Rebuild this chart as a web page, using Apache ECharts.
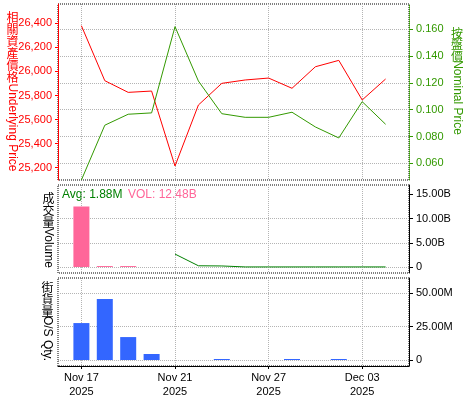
<!DOCTYPE html>
<html><head><meta charset="utf-8">
<script src="https://cdn.jsdelivr.net/npm/echarts@6/dist/echarts.min.js"></script>
<style>html,body{margin:0;padding:0;background:#fff}#c{width:475px;height:400px}</style>
</head><body><div id="c"></div>
<script>
const categories = ['Nov 14','Nov 17','Nov 18','Nov 19','Nov 20','Nov 21','Nov 24','Nov 25','Nov 26','Nov 27','Nov 28','Dec 01','Dec 02','Dec 03','Dec 04','Dec 05'];
const yearLabel = '2025';
const underlying = [null,26380,25923,25826,25837,25214,25721,25901,25929,25945,25860,26039,26092,25763,25937,null];
const nominal = [null,0.0475,0.0884,0.0966,0.0976,0.1620,0.1214,0.0970,0.0943,0.0943,0.0981,0.0871,0.0789,0.1060,0.0891,null];
const volume = [null,12.48e9,0.2e9,0.2e9,null,null,null,null,null,null,null,null,null,null,null,null];
const volumeAvg = [null,null,null,null,null,2.67e9,0.26e9,0.22e9,0.02e9,0.02e9,0.02e9,0.02e9,0.02e9,0.02e9,0.02e9,null];
const osQty = [null,27.7e6,45.7e6,17.2e6,4.5e6,null,null,0.75e6,null,null,0.75e6,null,0.75e6,null,null,null];
const priceTicks = [25200,25400,25600,25800,26000,26200,26400];
const nominalTicks = [0.06,0.08,0.10,0.12,0.14,0.16];
const volTicks = [0,5e9,10e9,15e9];
const volGridTicks = [0,5e9,10e9];
const osTicks = [0,25e6,50e6];
const avgText = 'Avg: 1.88M';
const volText = 'VOL: 12.48B';

const RED = '#ff0000', GREEN = '#339900', DKGREEN = '#008000', PINK = '#ff6699', BLUE = '#3366ff';
const FONT = 'Liberation Sans';
const CJK = 'Noto Sans CJK TC';
const showIdx = (i) => i >= 1 && (i - 1) % 4 === 0;
const gridSplit = {show: true, interval: showIdx, lineStyle: {color: '#b4b4b4', type: 'dotted', width: 1}};
const hSplit = {show: true, lineStyle: {color: '#b4b4b4', type: 'dotted', width: 1}};
const lbl = (c) => ({color: c, fontFamily: FONT, fontSize: 11});

function xAxis(gi, bottom) {
  return {
    type: 'category', gridIndex: gi, data: categories, boundaryGap: false,
    axisLine: {show: bottom, onZero: false, lineStyle: {color: '#000', width: 1}},
    axisTick: {show: bottom, interval: showIdx, length: 3, lineStyle: {color: '#000'}},
    axisLabel: Object.assign({show: bottom, interval: showIdx, margin: 5, lineHeight: 14,
      formatter: (v) => v + '\n' + yearLabel}, lbl('#000')),
    splitLine: gridSplit
  };
}

// vertical axis name: CJK characters upright and stacked, latin part rotated clockwise
function axisName(cjk, latin, x, top, step, latinCenter, color) {
  const els = [];
  Array.from(cjk).forEach((ch, i) => {
    els.push({type: 'text', x: x, y: top + i * step,
      style: {text: ch, fill: color, fontFamily: CJK, fontSize: 12, align: 'center', verticalAlign: 'top'}});
  });
  els.push({type: 'text', x: x, y: latinCenter, rotation: -Math.PI / 2,
    style: {text: latin, fill: color, fontFamily: FONT, fontSize: 12, align: 'center', verticalAlign: 'middle'}});
  return els;
}

const option = {
  animation: false,
  backgroundColor: '#fff',
  grid: [
    {left: 58, top: 4, width: 351, height: 176, show: true, borderColor: '#000', borderWidth: 1, borderType: 'dotted', backgroundColor: 'transparent'},
    {left: 58, top: 185, width: 351, height: 88, show: true, borderColor: '#000', borderWidth: 1, borderType: 'dotted', backgroundColor: 'transparent'},
    {left: 58, top: 278, width: 351, height: 88, show: true, borderColor: '#000', borderWidth: 1, borderType: 'dotted', backgroundColor: 'transparent'}
  ],
  xAxis: [xAxis(0, false), xAxis(1, false), xAxis(2, true)],
  yAxis: [
    {type: 'value', gridIndex: 0, position: 'left', min: 25097.8, max: 26560.4,
      axisLine: {show: true, lineStyle: {color: RED, width: 1}},
      axisTick: {show: true, length: 3, customValues: priceTicks, lineStyle: {color: RED}},
      axisLabel: Object.assign({margin: 6, customValues: priceTicks}, lbl(RED)),
      splitLine: {show: false}},
    {type: 'value', gridIndex: 0, position: 'right', min: 0.0475, max: 0.1789,
      axisLine: {show: true, lineStyle: {color: GREEN, width: 1, type: 'dotted'}},
      axisTick: {show: true, length: 4, customValues: nominalTicks, lineStyle: {color: GREEN}},
      axisLabel: Object.assign({margin: 7, customValues: nominalTicks, formatter: (v) => v.toFixed(3)}, lbl(GREEN)),
      splitLine: hSplit},
    {type: 'value', gridIndex: 1, position: 'right', min: -1.23e9, max: 16.9e9,
      axisLine: {show: true, lineStyle: {color: '#000', width: 1}},
      axisTick: {show: true, length: 4, customValues: volTicks, lineStyle: {color: '#000'}},
      axisLabel: Object.assign({margin: 7, customValues: volTicks,
        formatter: (v) => v === 0 ? '0' : (v / 1e9).toFixed(2) + 'B'}, lbl('#000')),
      splitLine: {show: false}},
    {type: 'value', gridIndex: 1, position: 'left', min: -1.23e9, max: 16.9e9,
      axisLine: {show: false}, axisTick: {show: false, customValues: volGridTicks},
      axisLabel: {show: false, customValues: volGridTicks}, splitLine: hSplit},
    {type: 'value', gridIndex: 2, position: 'right', min: -4.5e6, max: 61.5e6,
      axisLine: {show: true, lineStyle: {color: '#000', width: 1}},
      axisTick: {show: true, length: 4, customValues: osTicks, lineStyle: {color: '#000'}},
      axisLabel: Object.assign({margin: 7, customValues: osTicks,
        formatter: (v) => v === 0 ? '0' : (v / 1e6).toFixed(2) + 'M'}, lbl('#000')),
      splitLine: hSplit}
  ],
  series: [
    {type: 'line', xAxisIndex: 0, yAxisIndex: 0, data: underlying, showSymbol: false, symbol: 'none',
      lineStyle: {color: RED, width: 1}, itemStyle: {color: RED}},
    {type: 'line', xAxisIndex: 0, yAxisIndex: 1, data: nominal, showSymbol: false, symbol: 'none',
      lineStyle: {color: GREEN, width: 1}, itemStyle: {color: GREEN}},
    {type: 'bar', xAxisIndex: 1, yAxisIndex: 2, data: volume, barWidth: 16, itemStyle: {color: PINK}},
    {type: 'line', xAxisIndex: 1, yAxisIndex: 2, data: volumeAvg, showSymbol: false, symbol: 'none',
      lineStyle: {color: DKGREEN, width: 1}, itemStyle: {color: DKGREEN}},
    {type: 'bar', xAxisIndex: 2, yAxisIndex: 4, data: osQty, barWidth: 16, itemStyle: {color: BLUE}}
  ],
  graphic: [].concat(
    axisName('相關資產價格', 'Underlying Price', 12.5, 11, 12, 127.5, RED),
    axisName('按盤價', 'Nominal Price', 457, 27, 11.7, 97.5, GREEN),
    axisName('成交量', 'Volume', 48.5, 192, 12, 248, '#000'),
    axisName('街貨量', 'O/S Qty.', 47.5, 281, 12, 338.5, '#000'),
    [
      {type: 'text', x: 62, y: 195, style: {text: avgText, fill: DKGREEN, fontFamily: FONT, fontSize: 12, align: 'left', verticalAlign: 'middle'}},
      {type: 'text', x: 128, y: 195, style: {text: volText, fill: PINK, fontFamily: FONT, fontSize: 12, align: 'left', verticalAlign: 'middle'}}
    ]
  )
};
const chart = echarts.init(document.getElementById('c'), null, {renderer: 'canvas'});
chart.setOption(option);
</script></body></html>
